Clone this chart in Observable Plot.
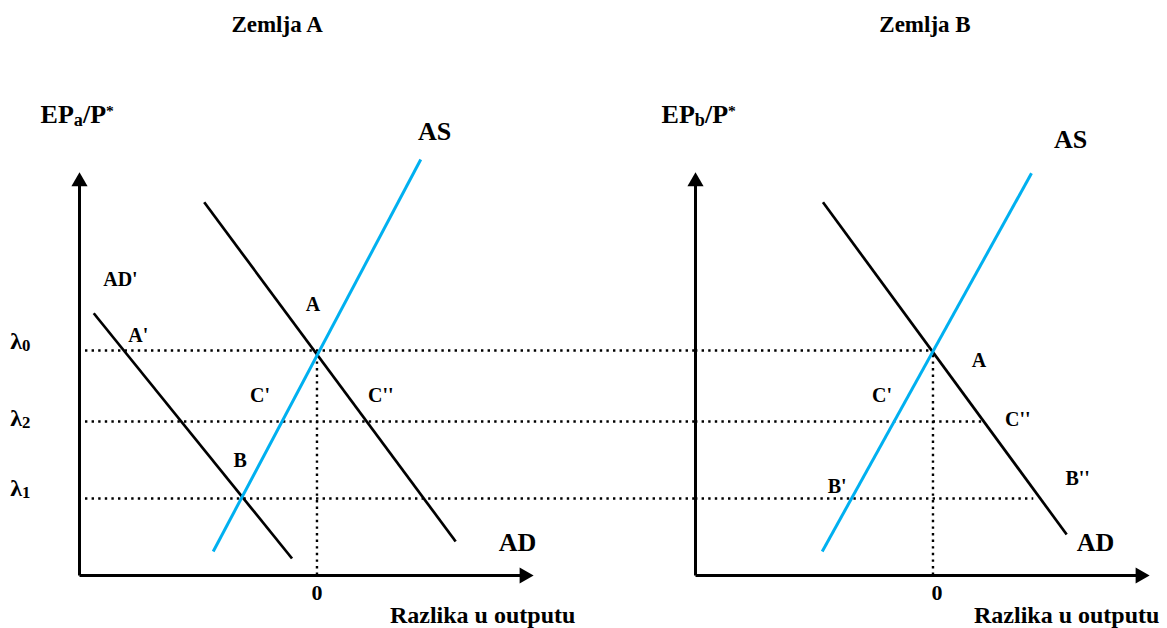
<!DOCTYPE html>
<html>
<head>
<meta charset="utf-8">
<script src="https://cdn.jsdelivr.net/npm/d3@7"></script>
<script src="https://cdn.jsdelivr.net/npm/@observablehq/plot@0.6"></script>
<style>
  html, body { margin: 0; padding: 0; background: #fff; overflow: hidden; }
  svg { display: block; }
</style>
</head>
<body>
<script>
// ---- data (economic units: output gap on x, real exchange ratio on y) ----
const countries = ["Zemlja A", "Zemlja B"];

// supply / demand curves (segment end points)
const curveCountry = ["Zemlja A", "Zemlja A", "Zemlja A", "Zemlja B", "Zemlja B"];
const curveName    = ["AS", "AD", "AD'", "AS", "AD"];
const curveX1      = [-4.16, -4.52, -8.95, -4.44, -4.41];
const curveY1      = [0.96, 14.93, 10.49, 0.96, 14.93];
const curveX2      = [4.16, 5.56, -1.0, 3.95, 5.36];
const curveY2      = [16.64, 1.36, 0.68, 16.09, 1.64];

// exchange-ratio levels λ0, λ2, λ1
const levelNames  = ["λ0", "λ2", "λ1"];
const levelValues = [9.0, 6.16, 3.08];

// dotted guide extents per country (from, to) for each level
const guideFromA = [-9.28, -9.28, -9.28];
const guideToA   = [15.2, 15.2, 15.2];
const guideFromB = [-9.52, -9.52, -9.52];
const guideToB   = [0, 1.95, 4.04];

// axis extents
const xAxisMin = -9.52, xAxisMax = 8.68, yAxisMax = 16.12;

// text annotations
const labelCountry = [
  "Zemlja A","Zemlja A","Zemlja A","Zemlja A","Zemlja A","Zemlja A","Zemlja A","Zemlja A","Zemlja A",
  "Zemlja A","Zemlja A","Zemlja A","Zemlja A","Zemlja A","Zemlja A",
  "Zemlja B","Zemlja B","Zemlja B","Zemlja B","Zemlja B","Zemlja B","Zemlja B","Zemlja B","Zemlja B","Zemlja B","Zemlja B"
];
const labelText = [
  "Zemlja A", "EP_{a}/P^{*}", "λ_{0}", "λ_{2}", "λ_{1}", "AD'", "A'", "A", "C'",
  "C''", "B", "AS", "AD", "0", "Razlika u outputu",
  "Zemlja B", "EP_{b}/P^{*}", "AS", "AD", "A", "C'", "C''", "B''", "B'", "0", "Razlika u outputu"
];
const labelKind = [
  "title", "axisTitle", "level", "level", "level", "point", "point", "point", "point",
  "point", "point", "curve", "curve", "tick", "xTitle",
  "title", "axisTitle", "curve", "curve", "point", "point", "point", "point", "point", "tick", "xTitle"
];
const labelX = [
  -1.6, -11.08, -12.3, -12.3, -12.3, -7.88, -7.16, -0.16, -2.28,
  2.56, -3.08, 4.72, 8.04, 0, 6.64,
  -0.32, -10.88, 5.52, 6.52, 1.84, -2.04, 3.4, 5.8, -3.84, 0.16, 5.36
];
const labelY = [
  22.04, 18.42, 9.38, 6.3, 3.5, 11.84, 9.6, 10.84, 7.2,
  7.2, 4.6, 17.76, 1.32, -0.68, -1.6,
  22.04, 18.42, 17.44, 1.32, 8.6, 7.2, 6.24, 3.88, 3.56, -0.68, -1.6
];

// ---- tables built from the arrays ----
const curves = curveName.map((name, i) => ({
  country: curveCountry[i], name, x1: curveX1[i], y1: curveY1[i], x2: curveX2[i], y2: curveY2[i]
}));
const guides = [
  ...levelNames.map((n, i) => ({country: "Zemlja A", level: n, y: levelValues[i], x1: guideFromA[i], x2: guideToA[i]})),
  ...levelNames.map((n, i) => ({country: "Zemlja B", level: n, y: levelValues[i], x1: guideFromB[i], x2: guideToB[i]}))
];
const verticals = countries.map(c => ({country: c, x: 0, y1: 0, y2: levelValues[0]}));
const axisLines = countries.flatMap(c => [
  {country: c, x1: xAxisMin, y1: 0, x2: xAxisMax - 0.4, y2: 0},
  {country: c, x1: xAxisMin, y1: 0, x2: xAxisMin, y2: yAxisMax - 0.4}
]);
const yTips = countries.map(c => ({country: c, x: xAxisMin, y: yAxisMax}));
const xTips = countries.map(c => ({country: c, x: xAxisMax, y: 0}));
const labels = labelText.map((t, i) => ({country: labelCountry[i], text: t, kind: labelKind[i], x: labelX[i], y: labelY[i]}));

const font = "'Liberation Serif', 'Times New Roman', Times, serif";
const kindStyle = {
  title:     {fontSize: 23, textAnchor: "middle"},
  axisTitle: {fontSize: 26, textAnchor: "start"},
  level:     {fontSize: 24, textAnchor: "start"},
  point:     {fontSize: 20, textAnchor: "middle"},
  curve:     {fontSize: 26, textAnchor: "middle"},
  tick:      {fontSize: 22, textAnchor: "middle"},
  xTitle:    {fontSize: 24, textAnchor: "middle"}
};

const textMarks = Object.entries(kindStyle).map(([kind, st]) =>
  Plot.text(labels.filter(d => d.kind === kind), {
    fx: "country", x: "x", y: "y", text: "text",
    fontSize: st.fontSize, textAnchor: st.textAnchor,
    fontFamily: font, fontWeight: "bold", fill: "black"
  })
);

const dotted = {stroke: "black", strokeWidth: 2.4, strokeDasharray: "2.4,4.2"};

const svg = Plot.plot({
  width: 1167,
  height: 628,
  marginLeft: 78,
  marginRight: 17,
  marginTop: 0,
  marginBottom: 0,
  fx: {domain: countries, paddingInner: 0.26256, paddingOuter: 0, axis: null, label: null},
  x: {domain: [xAxisMin, xAxisMax], axis: null},
  y: {domain: [-2.12, 23], axis: null},
  style: {fontFamily: font, background: "white", overflow: "visible"},
  marks: [
    Plot.ruleY(guides, {fx: "country", y: "y", x1: "x1", x2: "x2", ...dotted}),
    Plot.ruleX(verticals, {fx: "country", x: "x", y1: "y1", y2: "y2", ...dotted}),
    Plot.link(axisLines, {fx: "country", x1: "x1", y1: "y1", x2: "x2", y2: "y2", stroke: "black", strokeWidth: 3}),
    Plot.dot(yTips, {fx: "country", x: "x", y: "y", symbol: "triangle", r: 6, fill: "black", stroke: null, dy: 9.2}),
    Plot.dot(xTips, {fx: "country", x: "x", y: "y", symbol: "triangle", r: 6, fill: "black", stroke: null, rotate: 90, dx: -9.2}),
    Plot.link(curves.filter(d => d.name !== "AS"), {fx: "country", x1: "x1", y1: "y1", x2: "x2", y2: "y2", stroke: "black", strokeWidth: 2.7}),
    Plot.link(curves.filter(d => d.name === "AS"), {fx: "country", x1: "x1", y1: "y1", x2: "x2", y2: "y2", stroke: "#00B0F0", strokeWidth: 3}),
    ...textMarks
  ]
});

// turn "_{..}" / "^{..}" into sub/superscript tspans
d3.select(svg).selectAll("text").each(function () {
  const s = this.textContent;
  if (!/[_^]\{/.test(s)) return;
  const holder = this.closest("[font-size]");
  const fs = parseFloat(this.getAttribute("font-size") || (holder && holder.getAttribute("font-size")) || 20);
  this.textContent = "";
  const re = /([_^])\{([^}]*)\}|([^_^]+)/g;
  let m, shift = 0;
  while ((m = re.exec(s))) {
    const ts = document.createElementNS("http://www.w3.org/2000/svg", "tspan");
    let target = 0, size = fs;
    if (m[1] === "_") { target = 0.1 * fs; size = 0.7 * fs; }
    else if (m[1] === "^") { target = -0.3 * fs; size = 0.6 * fs; }
    ts.setAttribute("font-size", size);
    ts.setAttribute("dy", target - shift);
    shift = target;
    ts.textContent = m[1] ? m[2] : m[3];
    this.appendChild(ts);
  }
});

document.body.appendChild(svg);
</script>
</body>
</html>
